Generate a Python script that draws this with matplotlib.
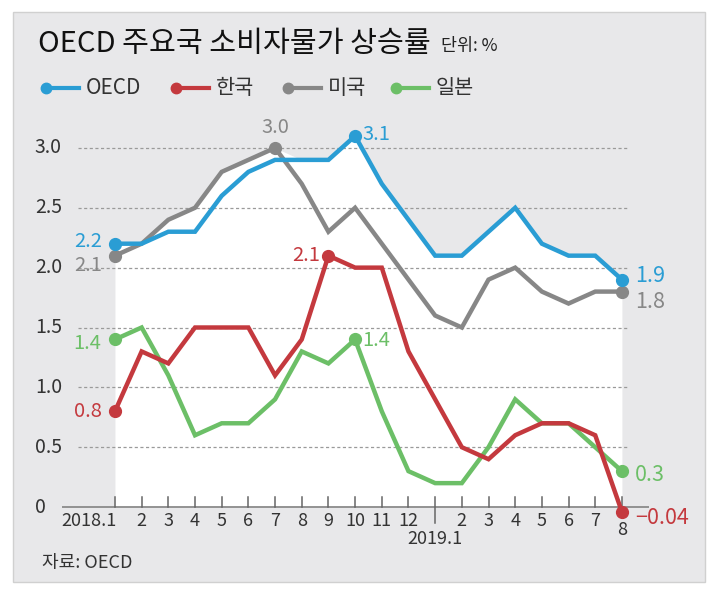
import matplotlib.pyplot as plt
from matplotlib.patches import Rectangle
from matplotlib.lines import Line2D

plt.rcParams['font.family'] = ['Noto Sans CJK KR', 'DejaVu Sans']

# monthly CPI growth (%), 2018.1 - 2019.8
months = ['2018.1', '2', '3', '4', '5', '6', '7', '8', '9', '10', '11', '12',
          '2019.1', '2', '3', '4', '5', '6', '7', '8']
oecd = [2.2, 2.2, 2.3, 2.3, 2.6, 2.8, 2.9, 2.9, 2.9, 3.1, 2.7, 2.4,
        2.1, 2.1, 2.3, 2.5, 2.2, 2.1, 2.1, 1.9]
korea = [0.8, 1.3, 1.2, 1.5, 1.5, 1.5, 1.1, 1.4, 2.1, 2.0, 2.0, 1.3,
         0.9, 0.5, 0.4, 0.6, 0.7, 0.7, 0.6, -0.04]
usa = [2.1, 2.2, 2.4, 2.5, 2.8, 2.9, 3.0, 2.7, 2.3, 2.5, 2.2, 1.9,
       1.6, 1.5, 1.9, 2.0, 1.8, 1.7, 1.8, 1.8]
japan = [1.4, 1.5, 1.1, 0.6, 0.7, 0.7, 0.9, 1.3, 1.2, 1.4, 0.8, 0.3,
         0.2, 0.2, 0.5, 0.9, 0.7, 0.7, 0.5, 0.3]
yticks = [0, 0.5, 1.0, 1.5, 2.0, 2.5, 3.0]
ytick_labels = ['0', '0.5', '1.0', '1.5', '2.0', '2.5', '3.0']

BLUE = '#2a9dd4'
RED = '#c4393e'
GRAY = '#878787'
GREEN = '#6cbf67'
BG = '#e8e8ea'
TXT = '#333333'

W, H = 722, 594
fig = plt.figure(figsize=(W / 100, H / 100), dpi=100)
fig.patch.set_facecolor('white')


def px(x, y):
    return x / W, 1 - y / H


# grey card
fig.patches.append(Rectangle(px(13, 582), 692 / W, 570 / H, transform=fig.transFigure,
                             facecolor=BG, edgecolor='#d0d0d0', lw=1, zorder=-5))

fig.text(*px(38, 44), 'OECD 주요국 소비자물가 상승률', fontsize=21, color='#111111',
         va='center', ha='left')
fig.text(*px(441, 46), '단위: %', fontsize=12.5, color='#222222', va='center', ha='left')

# legend
legend_items = [('OECD', BLUE, 46), ('한국', RED, 176), ('미국', GRAY, 288), ('일본', GREEN, 396)]
for name, col, x0 in legend_items:
    fig.add_artist(Line2D([x0 / W, (x0 + 33) / W], [1 - 88 / H, 1 - 88 / H], color=col, lw=3,
                          marker='o', markevery=[0], markersize=7.5, transform=fig.transFigure))
    fig.text(*px(x0 + 40, 88), name, fontsize=15, color=TXT, va='center', ha='left')

# axes: x index 0 -> 115px, 19 -> 622px ; y 0 -> 507px, 3.0 -> 148px
ax = fig.add_axes([61.6 / W, (H - 543) / H, 587 / W, 431 / H])
ax.patch.set_visible(False)
ax.set_xlim(-2, 20)
ax.set_ylim(-0.3, 3.3)
ax.axis('off')

x = list(range(len(months)))
env = [max(v) for v in zip(oecd, korea, usa, japan)]
ax.fill_between(x, 0, env, color='white', lw=0, zorder=1)

for v in yticks[1:]:
    ax.plot([-1.4, 19.2], [v, v], color='#9a9a9a', lw=0.9, ls=(0, (2.5, 2)), zorder=2)
ax.plot([-2, 20], [0, 0], color='#8a8a8a', lw=1.3, zorder=2)

for v, lab in zip(yticks, ytick_labels):
    ax.text(-3.0, v, lab, fontsize=14, color=TXT, ha='left', va='center')

for i, lab in enumerate(months):
    if lab == '2019.1':
        ax.plot([i, i], [-0.13, 0.085], color='#666666', lw=1.1, zorder=2)
        ax.text(i, -0.27, lab, fontsize=13, color=TXT, ha='center', va='center')
    else:
        ax.plot([i, i], [0, 0.085], color='#666666', lw=1.1, zorder=2)
        if i == 0:
            ax.text(i + 0.05, -0.12, lab, fontsize=13, color=TXT, ha='right', va='center')
        elif i == len(months) - 1:
            ax.text(i, -0.19, lab, fontsize=13, color=TXT, ha='center', va='center')
        else:
            ax.text(i, -0.12, lab, fontsize=13, color=TXT, ha='center', va='center')

series = [(usa, GRAY), (japan, GREEN), (korea, RED), (oecd, BLUE)]
for ys, col in series:
    ax.plot(x, ys, color=col, lw=3.2, solid_joinstyle='miter', zorder=3, clip_on=False)

# highlighted points
last = len(x) - 1
pts = [(usa, GRAY, [0, 6, last]), (japan, GREEN, [0, 9, last]),
       (korea, RED, [0, 8, last]), (oecd, BLUE, [0, 9, last])]
for ys, col, idx in pts:
    ax.plot([x[i] for i in idx], [ys[i] for i in idx], 'o', color=col, markersize=8.5,
            zorder=4, clip_on=False)

fs = 14.5
ax.text(-0.5, oecd[0] + 0.02, f'{oecd[0]:.1f}', color=BLUE, fontsize=fs, ha='right', va='center')
ax.text(-0.5, usa[0] - 0.08, f'{usa[0]:.1f}', color=GRAY, fontsize=fs, ha='right', va='center')
ax.text(-0.5, japan[0] - 0.03, f'{japan[0]:.1f}', color=GREEN, fontsize=fs, ha='right', va='center')
ax.text(-0.5, korea[0], f'{korea[0]:.1f}', color=RED, fontsize=fs, ha='right', va='center')
ax.text(6, usa[6] + 0.17, f'{usa[6]:.1f}', color=GRAY, fontsize=fs, ha='center', va='center')
ax.text(9.28, oecd[9] + 0.01, f'{oecd[9]:.1f}', color=BLUE, fontsize=fs, ha='left', va='center')
ax.text(7.7, korea[8], f'{korea[8]:.1f}', color=RED, fontsize=fs, ha='right', va='center')
ax.text(9.28, japan[9] - 0.01, f'{japan[9]:.1f}', color=GREEN, fontsize=fs, ha='left', va='center')
ax.text(last + 0.5, oecd[last] + 0.03, f'{oecd[last]:.1f}', color=BLUE, fontsize=fs + 1, ha='left', va='center')
ax.text(last + 0.5, usa[last] - 0.09, f'{usa[last]:.1f}', color=GRAY, fontsize=fs + 1, ha='left', va='center')
ax.text(last + 0.5, japan[last] - 0.03, f'{japan[last]:.1f}', color=GREEN, fontsize=fs + 1, ha='left', va='center')
ax.text(last + 0.5, korea[last] - 0.05, '\u2212' + f'{abs(korea[last]):.2f}', color=RED,
        fontsize=fs + 1, ha='left', va='center')

fig.text(*px(42, 563), '자료: OECD', fontsize=13, color=TXT, va='center', ha='left')

fig.savefig('out.png', dpi=100)
